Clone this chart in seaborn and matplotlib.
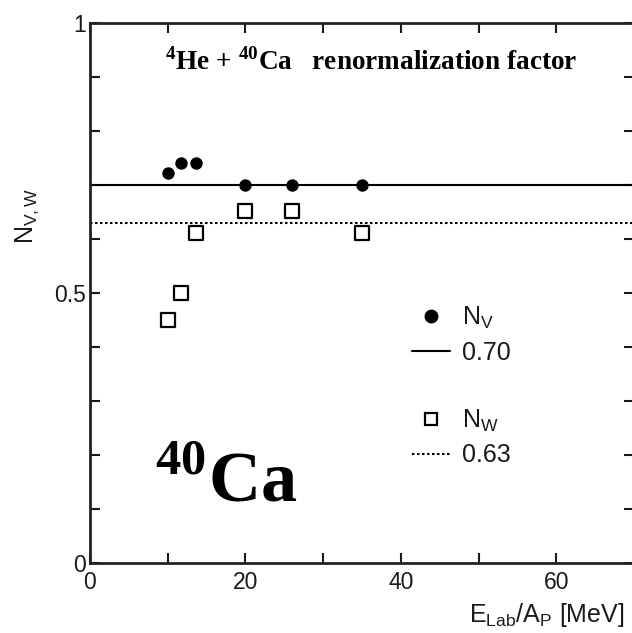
import matplotlib
matplotlib.use("Agg")
import matplotlib.pyplot as plt
import seaborn as sns
import pandas as pd
from matplotlib.lines import Line2D

# ---- data ----
nv_energy = [10.0, 11.7, 13.6, 20.0, 26.0, 35.0]
nv_values = [0.722, 0.741, 0.741, 0.70, 0.70, 0.70]
nw_energy = [10.0, 11.7, 13.6, 20.0, 26.0, 35.0]
nw_values = [0.45, 0.50, 0.611, 0.652, 0.652, 0.611]
nv_fit = 0.70
nw_fit = 0.63
x_ticks = [0, 10, 20, 30, 40, 50, 60, 70]
x_tick_labels = ["0", "", "20", "", "40", "", "60", ""]
y_ticks = [0, 0.1, 0.2, 0.3, 0.4, 0.5, 0.6, 0.7, 0.8, 0.9, 1.0]
y_tick_labels = ["0", "", "", "", "", "0.5", "", "", "", "", "1"]

sns.set_style("ticks")
plt.rcParams["font.family"] = ["Liberation Sans", "DejaVu Sans"]
plt.rcParams["mathtext.fontset"] = "custom"
plt.rcParams["mathtext.rm"] = "Liberation Sans"
plt.rcParams["mathtext.it"] = "Liberation Sans"
plt.rcParams["mathtext.bf"] = "Liberation Serif:bold"
plt.rcParams["text.color"] = "#1a1a1a"
plt.rcParams["axes.labelcolor"] = "#1a1a1a"

fig = plt.figure(figsize=(6.32, 6.33), dpi=100)
W, H = 632, 633
ax = fig.add_axes([90 / W, 1 - 563 / H, 544 / W, 540 / H])

dv = pd.DataFrame({"E": nv_energy, "N": nv_values})
dw = pd.DataFrame({"E": nw_energy, "N": nw_values})

ax.axhline(nv_fit, color="black", lw=1.5, zorder=1)
ax.axhline(nw_fit, color="black", lw=1.5, ls=(0, (1.2, 1.2)), zorder=1)
sns.scatterplot(data=dv, x="E", y="N", ax=ax, marker="o", s=80,
                color="black", edgecolor="black", linewidth=0, zorder=3)
sns.scatterplot(data=dw, x="E", y="N", ax=ax, marker="s", s=90,
                facecolor="white", edgecolor="black", linewidth=1.6, zorder=3)

ax.set_xlim(0, 70)
ax.set_ylim(0, 1)
ax.set_xticks(x_ticks)
ax.set_xticklabels(x_tick_labels)
ax.set_yticks(y_ticks)
ax.set_yticklabels(y_tick_labels)
ax.tick_params(direction="in", top=True, right=True, length=7, width=1.5,
               labelsize=16.5, pad=3, colors="#1a1a1a")
ax.tick_params(axis="x", pad=6)
for sp in ax.spines.values():
    sp.set_linewidth(2)
    sp.set_color("#222222")

ax.set_xlabel(r"E$_{\mathrm{Lab}}$/A$_{\mathrm{P}}$ [MeV]", fontsize=18,
              ha="right", va="center")
ax.xaxis.set_label_coords(0.983, -0.096)
ax.set_ylabel(r"N$_{\mathrm{V,W}}$", fontsize=18, va="center")
ax.yaxis.set_label_coords(-0.115, 0.643)

ax.text(0.138, 0.913,
        r"$^{\mathbf{4}}$He + $^{\mathbf{40}}$Ca   renormalization factor",
        transform=ax.transAxes, family="Liberation Serif", weight="bold",
        fontsize=19.6, va="baseline", ha="left", color="black")
ax.text(0.12, 0.113, r"$^{\mathbf{40}}$Ca", transform=ax.transAxes,
        family="Liberation Serif", weight="bold", fontsize=52,
        va="baseline", ha="left", color="black")

handles = [
    Line2D([], [], ls="none", marker="o", ms=9, color="black"),
    Line2D([], [], color="black", lw=1.5),
    Line2D([], [], ls="none"),
    Line2D([], [], ls="none", marker="s", ms=9, mfc="white", mec="black", mew=1.6),
    Line2D([], [], color="black", lw=1.5, ls=(0, (1.2, 1.2))),
]
labels = [r"N$_{\mathrm{V}}$", "0.70", "", r"N$_{\mathrm{W}}$", "0.63"]
ax.legend(handles, labels, loc="upper left", bbox_to_anchor=(0.592, 0.478),
          frameon=False, fontsize=18, handlelength=1.5, handletextpad=0.5,
          labelspacing=0.38, borderpad=0, borderaxespad=0)

fig.savefig("out.png", dpi=100, facecolor="white")
